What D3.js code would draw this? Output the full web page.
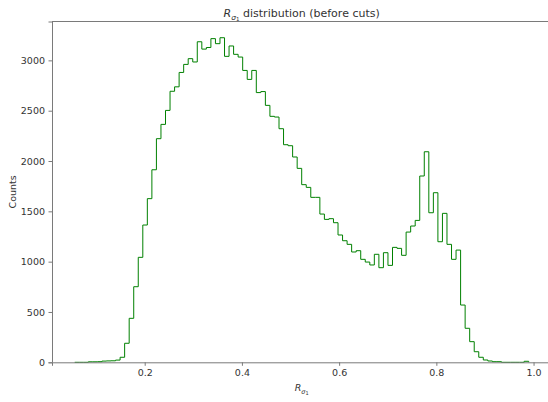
<!DOCTYPE html>
<html>
<head>
<meta charset="utf-8">
<script src="https://cdn.jsdelivr.net/npm/d3@7"></script>
<style>
  body { margin: 0; background: #fff; }
  text { font-family: "DejaVu Sans", sans-serif; }
</style>
</head>
<body>
<div id="chart"></div>
<script>
// histogram range and counts (100 bins)
var binLo = 0.056, binHi = 0.990;
var counts = [
  0, 0, 0, 5, 5, 6, 12, 14, 15, 22,
  50, 189, 437, 751, 1043, 1364, 1626, 1913, 2222, 2364,
  2503, 2693, 2737, 2880, 2960, 3017, 2984, 3185, 3112, 3128,
  3216, 3166, 3225, 3040, 3143, 3060, 3033, 2900, 2811, 2900,
  2680, 2690, 2553, 2444, 2437, 2321, 2162, 2152, 2040, 1927,
  1765, 1738, 1639, 1639, 1473, 1420, 1427, 1387, 1265, 1208,
  1172, 1096, 1109, 1023, 996, 967, 1073, 940, 1089, 963,
  1142, 1132, 1063, 1294, 1354, 1410, 1851, 2092, 1486, 1685,
  1198, 1480, 1172, 1023, 1115, 569, 338, 205, 105, 50,
  23, 13, 6, 6, 0, 0, 0, 0, 0, 10
];
var xTicks = [0.2, 0.4, 0.6, 0.8, 1.0];
var yTicks = [0, 500, 1000, 1500, 2000, 2500, 3000];

var width = 548, height = 402;
var plotLeft = 52, plotRight = 551.4, plotTop = 21.5, plotBottom = 362.3;
var axisColor = "#7a7a7a", textColor = "#333";

var svg = d3.select("#chart").append("svg")
  .attr("width", width)
  .attr("height", height);

var w = binHi - binLo;
var x = d3.scaleLinear()
  .domain([binLo - 0.05 * w, binHi + 0.05 * w])
  .range([plotLeft, plotRight]);
var y = d3.scaleLinear()
  .domain([0, d3.max(counts) * 1.05])
  .range([plotBottom, plotTop]);

// step outline like matplotlib histtype='step'
var binW = w / counts.length;
var pts = [[binLo, 0]];
counts.forEach(function(c, i) {
  pts.push([binLo + i * binW, c]);
  pts.push([binLo + (i + 1) * binW, c]);
});
pts.push([binHi, 0]);

svg.append("path")
  .attr("d", d3.line().x(d => x(d[0])).y(d => y(d[1]))(pts))
  .attr("fill", "none")
  .attr("stroke", "green")
  .attr("stroke-width", 1);

// axes
var xAxis = svg.append("g")
  .attr("transform", "translate(0," + plotBottom + ")")
  .call(d3.axisBottom(x).tickValues(xTicks).tickFormat(d3.format(".1f")).tickSizeOuter(0).tickSize(3.5).tickPadding(3.5));
var yAxis = svg.append("g")
  .attr("transform", "translate(" + plotLeft + ",0)")
  .call(d3.axisLeft(y).tickValues(yTicks).tickFormat(d3.format("d")).tickSizeOuter(0).tickSize(3.5).tickPadding(3.5));

[xAxis, yAxis].forEach(function(g) {
  g.select(".domain").attr("stroke", axisColor);
  g.selectAll(".tick line").attr("stroke", axisColor);
  g.selectAll(".tick text").attr("fill", textColor).style("font-size", "9.5px");
});

// top spine
svg.append("line")
  .attr("x1", plotLeft).attr("x2", plotRight)
  .attr("y1", plotTop).attr("y2", plotTop)
  .attr("stroke", axisColor);

// title
var title = svg.append("text")
  .attr("x", (plotLeft + plotRight) / 2)
  .attr("y", 17)
  .attr("text-anchor", "middle")
  .attr("fill", textColor)
  .style("font-size", "11px");
title.append("tspan").attr("font-style", "italic").text("R");
title.append("tspan").attr("font-style", "italic").attr("dy", 2.5).style("font-size", "7.5px").text("σ");
title.append("tspan").attr("dy", 1.5).style("font-size", "5.5px").text("1");
title.append("tspan").attr("dy", -4).text(" distribution (before cuts)");

// x label
var xl = svg.append("text")
  .attr("x", (plotLeft + plotRight) / 2)
  .attr("y", 391)
  .attr("text-anchor", "middle")
  .attr("fill", textColor)
  .style("font-size", "9.5px");
xl.append("tspan").attr("font-style", "italic").text("R");
xl.append("tspan").attr("font-style", "italic").attr("dy", 2.5).style("font-size", "6.5px").text("σ");
xl.append("tspan").attr("dy", 1.5).style("font-size", "5px").text("1");

// y label
svg.append("text")
  .attr("transform", "translate(16," + ((plotTop + plotBottom) / 2) + ") rotate(-90)")
  .attr("text-anchor", "middle")
  .attr("fill", textColor)
  .style("font-size", "9.5px")
  .text("Counts");
</script>
</body>
</html>
